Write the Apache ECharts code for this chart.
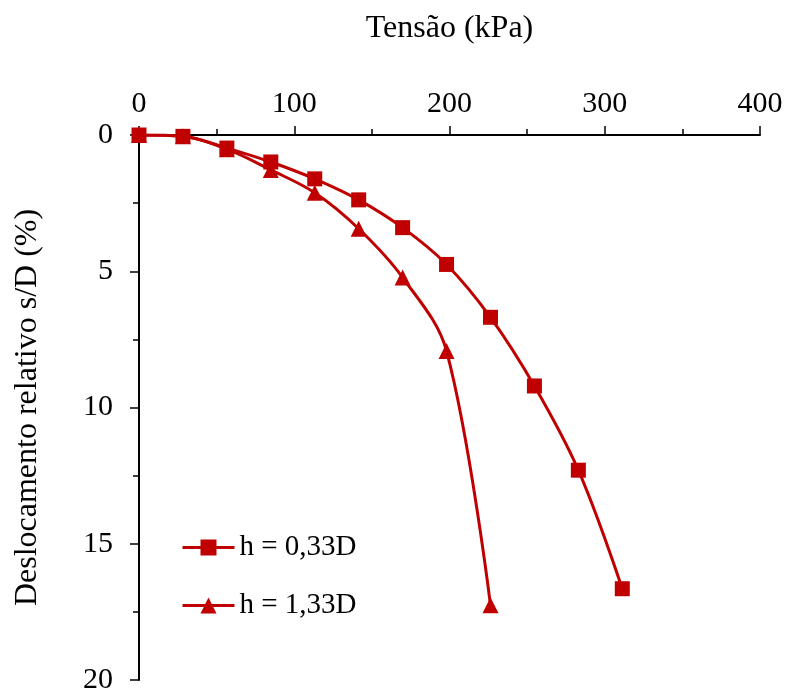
<!DOCTYPE html>
<html>
<head>
<meta charset="utf-8">
<script src="https://cdn.jsdelivr.net/npm/echarts@6/dist/echarts.min.js"></script>
<style>
  html, body { margin: 0; padding: 0; background: #fff; }
  #chart { width: 788px; height: 695px; }
</style>
</head>
<body>
<div id="chart"></div>
<script>
// tensão (kPa) para cada estágio de carga
const tensao = [0, 28.3, 56.6, 84.9, 113.2, 141.5, 169.8, 198.1, 226.4, 254.7, 283.0, 311.3]
// deslocamento relativo s/D (%)
const deslocH033 = [0, 0.05, 0.48, 0.99, 1.61, 2.38, 3.4, 4.75, 6.69, 9.21, 12.3, 16.65]
const deslocH133 = [0, 0.05, 0.52, 1.28, 2.12, 3.44, 5.23, 7.93, 17.26]
const seriesNames = ['h = 0,33D', 'h = 1,33D']

const red = '#c00000'
const font = 'Liberation Serif, Times New Roman, serif'

function pairs(ys) {
  return ys.map((y, i) => [tensao[i], y])
}

const chart = echarts.init(document.getElementById('chart'))
chart.setOption({
  backgroundColor: '#fff',
  animation: false,
  textStyle: { fontFamily: font },
  grid: { left: 139, right: 28, top: 135, bottom: 13 },
  legend: {
    orient: 'vertical',
    left: 181,
    top: 533,
    padding: 0,
    itemWidth: 52,
    itemHeight: 20,
    itemGap: 29,
    lineStyle: { width: 3, color: red },
    textStyle: { fontFamily: font, fontSize: 29, color: '#000' },
    data: seriesNames
  },
  xAxis: {
    type: 'value',
    position: 'top',
    min: 0,
    max: 400,
    interval: 100,
    name: 'Tensão (kPa)',
    nameLocation: 'middle',
    nameGap: 90,
    nameTextStyle: { fontFamily: font, fontSize: 32, color: '#000' },
    axisLine: { show: true, lineStyle: { color: '#000', width: 2 } },
    axisTick: { show: true, length: 9, lineStyle: { color: '#000', width: 1.5 } },
    minorTick: { show: true, splitNumber: 2, length: 6, lineStyle: { color: '#000', width: 1.5 } },
    axisLabel: { fontFamily: font, fontSize: 30, color: '#000', margin: 16 },
    splitLine: { show: false }
  },
  yAxis: {
    type: 'value',
    inverse: true,
    min: 0,
    max: 20,
    interval: 5,
    name: 'Deslocamento relativo s/D (%)',
    nameLocation: 'middle',
    nameGap: 95,
    nameTextStyle: { fontFamily: font, fontSize: 32, color: '#000' },
    axisLine: { show: true, lineStyle: { color: '#000', width: 2 } },
    axisTick: { show: true, length: 9, lineStyle: { color: '#000', width: 1.5 } },
    minorTick: { show: true, splitNumber: 2, length: 6, lineStyle: { color: '#000', width: 1.5 } },
    axisLabel: { fontFamily: font, fontSize: 30, color: '#000', margin: 26 },
    splitLine: { show: false }
  },
  series: [
    {
      name: seriesNames[0],
      type: 'line',
      smooth: 0.35,
      data: pairs(deslocH033),
      symbol: 'rect',
      symbolSize: 15,
      itemStyle: { color: red },
      lineStyle: { color: red, width: 3 }
    },
    {
      name: seriesNames[1],
      type: 'line',
      smooth: 0.35,
      data: pairs(deslocH133),
      symbol: 'triangle',
      symbolSize: 16,
      itemStyle: { color: red },
      lineStyle: { color: red, width: 3 }
    }
  ]
})
</script>
</body>
</html>
